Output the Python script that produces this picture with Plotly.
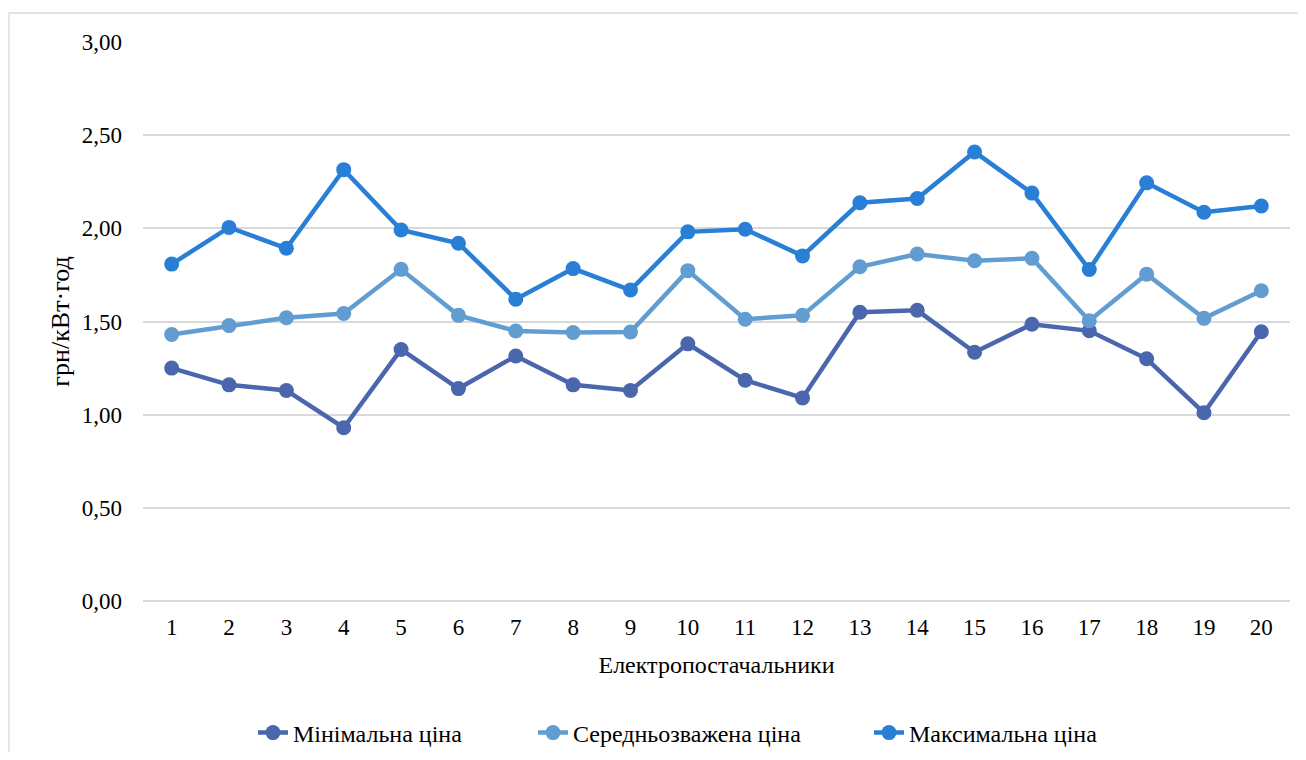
import plotly.graph_objects as go

suppliers = [str(i) for i in range(1, 21)]
min_price = [1.25, 1.16, 1.13, 0.93, 1.35, 1.14, 1.315, 1.16, 1.13, 1.38,
             1.185, 1.09, 1.55, 1.56, 1.335, 1.485, 1.45, 1.30, 1.01, 1.445]
avg_price = [1.43, 1.478, 1.52, 1.543, 1.78, 1.533, 1.449, 1.441, 1.444, 1.773,
             1.512, 1.533, 1.794, 1.862, 1.826, 1.839, 1.504, 1.754, 1.517, 1.665]
max_price = [1.808, 2.005, 1.893, 2.315, 1.991, 1.92, 1.62, 1.784, 1.669, 1.981,
             1.995, 1.852, 2.137, 2.16, 2.41, 2.189, 1.779, 2.244, 2.086, 2.12]

series_names = ["Мінімальна ціна", "Середньозважена ціна", "Максимальна ціна"]
series_colors = ["#4A66AC", "#629DD1", "#297FD5"]
legend_ids = ["legend", "legend2", "legend3"]
legend_left_px = [245, 525, 861]
y_ticks = [0, 0.5, 1.0, 1.5, 2.0, 2.5, 3.0]

FONT = "Liberation Serif, Times New Roman, serif"
# page body has an 8px default margin; size the figure to fit the window
W, H = 1290, 744
ML, MR, MT, MB = 135, 8, 34, 151
PW, PH = W - ML - MR, H - MT - MB

fig = go.Figure()
for name, vals, col, lg in zip(series_names, [min_price, avg_price, max_price], series_colors, legend_ids):
    fig.add_trace(go.Scatter(
        x=suppliers, y=vals, name=name, mode="lines+markers",
        line=dict(color=col, width=4.5),
        marker=dict(color=col, size=15),
        legend=lg,
    ))

legend_layout = {}
for lg, left in zip(legend_ids, legend_left_px):
    legend_layout[lg] = dict(
        orientation="h", xref="container", yref="container",
        x=left / W, xanchor="left", y=1 - (733 - 8) / H, yanchor="middle",
        bgcolor="rgba(0,0,0,0)",
        font=dict(family=FONT, size=24, color="#000000"),
    )

fig.update_layout(
    width=W, height=H,
    paper_bgcolor="white", plot_bgcolor="white",
    margin=dict(l=ML, r=MR, t=MT, b=MB),
    separators=", ",
    font=dict(family=FONT, size=23, color="#000000"),
    showlegend=True,
    shapes=[dict(type="rect", xref="paper", yref="paper",
                 x0=(1 - ML) / PW, x1=(W + 20 - ML) / PW,
                 y0=-0.5, y1=(MT + PH - 5) / PH,
                 line=dict(color="#D9D9D9", width=1.3), layer="below")],
    **legend_layout,
)

fig.update_xaxes(
    type="category", range=[-0.5, 19.5],
    showgrid=False, showline=False, zeroline=False,
    automargin=False, ticks="", ticklabelstandoff=10,
    tickfont=dict(family=FONT, size=23, color="#000000"),
    title=dict(text="Електропостачальники", font=dict(family=FONT, size=24, color="#000000"), standoff=17),
)
fig.update_yaxes(
    range=[0, 3], tickvals=y_ticks, tickformat=".2f",
    showgrid=True, gridcolor="#D9D9D9", gridwidth=1.5,
    zeroline=True, zerolinecolor="#D9D9D9", zerolinewidth=1.5,
    automargin=False, showline=False, ticks="", ticklabelstandoff=20,
    tickfont=dict(family=FONT, size=23, color="#000000"),
    title=dict(text="грн/кВт·год", font=dict(family=FONT, size=26, color="#000000"), standoff=4),
)

fig.write_html("out.html")
